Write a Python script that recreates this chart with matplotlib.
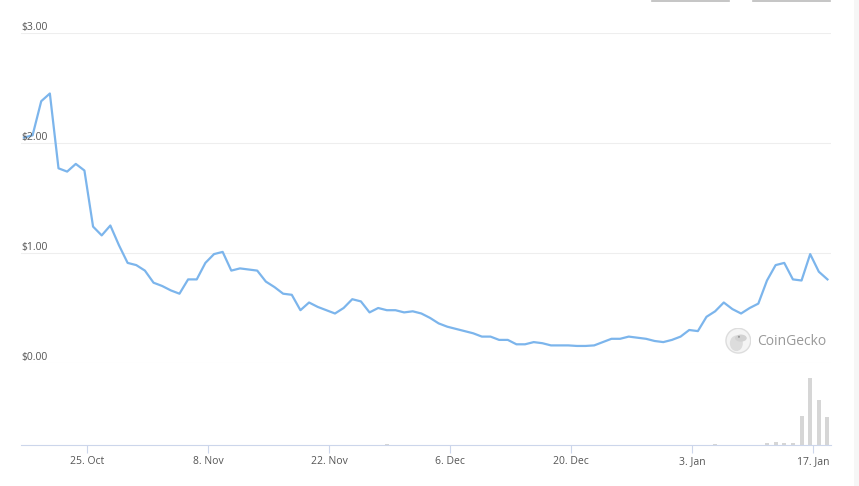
import matplotlib
matplotlib.use("Agg")
import matplotlib.pyplot as plt
import matplotlib.transforms as mtransforms
from matplotlib.patches import Circle, Ellipse, Rectangle
from matplotlib.lines import Line2D
import pandas as pd

# --- data ---
dates = pd.date_range("2021-10-17 16:00", periods=94, freq="D")
prices = [
    2.05, 2.07, 2.38, 2.45, 1.77, 1.74, 1.81, 1.75, 1.24, 1.16,
    1.25, 1.07, 0.91, 0.89, 0.84, 0.73, 0.70, 0.66, 0.63, 0.76,
    0.76, 0.91, 0.99, 1.01, 0.84, 0.86, 0.85, 0.84, 0.74, 0.69,
    0.63, 0.62, 0.48, 0.55, 0.51, 0.48, 0.45, 0.50, 0.58, 0.56,
    0.46, 0.50, 0.48, 0.48, 0.46, 0.47, 0.45, 0.41, 0.36, 0.33,
    0.31, 0.29, 0.27, 0.24, 0.24, 0.21, 0.21, 0.17, 0.17, 0.19,
    0.18, 0.16, 0.16, 0.16, 0.155, 0.155, 0.16, 0.19, 0.22, 0.22,
    0.24, 0.23, 0.22, 0.20, 0.19, 0.21, 0.24, 0.30, 0.29, 0.42,
    0.47, 0.55, 0.49, 0.45, 0.50, 0.54, 0.75, 0.89, 0.91, 0.76,
    0.75, 0.99, 0.83, 0.76,
]
volumes_k = [
    6, 5, 8, 9, 7, 6, 5, 6, 7, 5,
    5, 4, 4, 4, 3, 3, 4, 3, 3, 4,
    4, 5, 6, 5, 4, 4, 3, 3, 3, 3,
    3, 3, 4, 3, 3, 3, 3, 4, 5, 4,
    3, 5, 20, 4, 3, 3, 3, 3, 3, 3,
    3, 3, 3, 3, 3, 3, 3, 3, 3, 3,
    3, 3, 3, 3, 3, 3, 3, 3, 3, 3,
    3, 3, 3, 3, 3, 4, 5, 6, 6, 8,
    40, 10, 8, 6, 8, 10, 70, 100, 70, 50,
    880, 2020, 1340, 830,
]
price_ticks = [0, 1, 2, 3]
price_labels = ["$0.00", "$1.00", "$2.00", "$3.00"]
tick_dates = pd.to_datetime(["2021-10-25", "2021-11-08", "2021-11-22", "2021-12-06",
                             "2021-12-20", "2022-01-03", "2022-01-17"])
tick_labels = ["25. Oct", "8. Nov", "22. Nov", "6. Dec", "20. Dec", "3. Jan", "17. Jan"]

W, H = 859, 486
LINE_C = "#7cb5ec"
GRID_C = "#eeeeee"
AXIS_C = "#ccd6eb"
TEXT_C = "#555555"
plt.rcParams["font.family"] = ["Open Sans", "DejaVu Sans"]

fig = plt.figure(figsize=(W / 100, H / 100), dpi=100)
fig.patch.set_facecolor("white")

x0, x1 = 21, 831
ax = fig.add_axes([x0 / W, (H - 363) / H, (x1 - x0) / W, 330 / H])
axv = fig.add_axes([x0 / W, (H - 445) / H, (x1 - x0) / W, 82 / H], sharex=ax)

# x range: 25 Oct sits at px 87.3, 8.64 px per day
px_day = 8.64
t25 = pd.Timestamp("2021-10-25")
xmin = t25 - pd.Timedelta(days=(87.3 - x0) / px_day)
xmax = t25 + pd.Timedelta(days=(x1 - 87.3) / px_day)

# --- price line ---
ax.plot(dates, prices, color=LINE_C, lw=1.6, solid_joinstyle="round", zorder=3, clip_on=False)
ax.set_ylim(0, 3)
ax.set_xlim(xmin, xmax)
for s in ax.spines.values():
    s.set_visible(False)
ax.set_yticks([])
ax.tick_params(axis="x", which="both", bottom=False, labelbottom=False)
for v in price_ticks:
    ax.axhline(v, color=GRID_C, lw=0.8, zorder=1)
trans = mtransforms.blended_transform_factory(ax.transAxes, ax.transData)
for v, lab in zip(price_ticks, price_labels):
    ax.annotate(lab, (0, v), xycoords=trans, xytext=(0, 0.2), textcoords="offset points",
                ha="left", va="bottom", fontsize=7.5, color=TEXT_C)

# watermark
ax_logo = fig.add_axes([(738.3 - 13) / W, (H - 340.7 - 13) / H, 26 / W, 26 / H])
ax_logo.set_xlim(-1, 1)
ax_logo.set_ylim(-1, 1)
ax_logo.axis("off")
ax_logo.add_patch(Circle((0, 0), 0.95, facecolor="#f4f4f4", edgecolor="#dddddd", lw=1))
ax_logo.add_patch(Ellipse((-0.15, -0.2), 1.0, 1.2, facecolor="#dcdcdc", edgecolor="none"))
ax_logo.add_patch(Ellipse((0.2, 0.2), 0.9, 0.55, facecolor="#d2d2d2", edgecolor="none"))
ax_logo.add_patch(Circle((0.05, 0.3), 0.08, facecolor="#999999", edgecolor="none"))
fig.text(757.5 / W, 1 - 341.7 / H, "CoinGecko", ha="left", va="center",
         fontsize=10, color="#999999")

# --- volume bars ---
axv.bar(dates, volumes_k, width=0.46, color="#d6d6d6", zorder=2)
axv.set_ylim(0, 2020 * 82 / 67.3)
axv.set_xlim(xmin, xmax)
for k in ["top", "left", "right"]:
    axv.spines[k].set_visible(False)
axv.spines["bottom"].set_color(AXIS_C)
axv.spines["bottom"].set_linewidth(0.8)
axv.set_yticks([])
axv.set_xticks(tick_dates)
axv.set_xticklabels(tick_labels)
axv.tick_params(axis="x", length=6, width=0.8, color=AXIS_C, pad=2,
                labelsize=7.5, labelcolor=TEXT_C)

# top-right button edges and right border
fig.add_artist(Line2D([652 / W, 729 / W], [1 - 0.6 / H, 1 - 0.6 / H], color="#bbbbbb", lw=1.2))
fig.add_artist(Line2D([753 / W, 830 / W], [1 - 0.6 / H, 1 - 0.6 / H], color="#bbbbbb", lw=1.2))
fig.add_artist(Rectangle((854 / W, 0), 5 / W, 1, transform=fig.transFigure,
                         facecolor="#f6f6f6", edgecolor="none"))

fig.savefig("out.png", dpi=100)
